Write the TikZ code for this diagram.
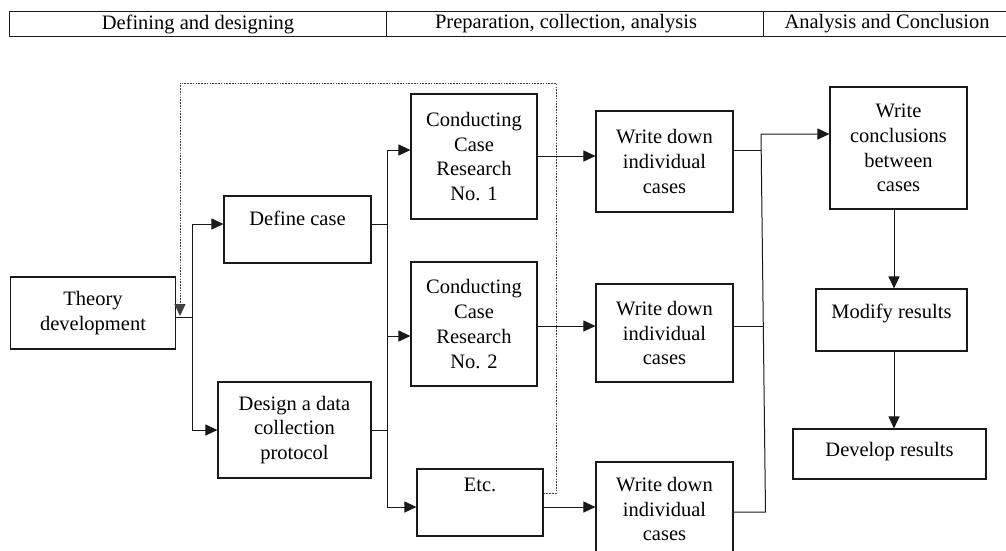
\documentclass[tikz,border=0pt]{standalone}
\usepackage{fontspec}
\setmainfont{Liberation Serif}
\usetikzlibrary{arrows.meta}
\tikzset{
  box/.style={draw=black!90, line width=1.1pt, inner sep=0pt, align=center,
    font=\fontsize{20.5}{24.7}\selectfont},
  hdr/.style={inner sep=0pt, font=\fontsize{20.5}{24.7}\selectfont},
  conn/.style={draw=black!90, line width=1pt},
  tip/.style={-{Triangle[length=12pt,width=11pt]}},
  arr/.style={conn, tip},
  dots/.style={draw=black!75, line width=0.9pt, dash pattern=on 1.6pt off 1.2pt}
}
\begin{document}
\begin{tikzpicture}[x=1pt,y=-1pt]
\useasboundingbox (0,0) rectangle (1006,550);
\clip (0,0) rectangle (1006,550);
% header table
\draw[conn] (9,11) rectangle (1006,36);
\draw[conn] (386,11) -- (386,36);
\draw[conn] (763,11) -- (763,36);
\node[hdr] (h1) at (198,24) {Defining and designing};
\node[hdr] (h2) at (566,24) {Preparation, collection, analysis};
\node[hdr] (h3) at (887,24) {Analysis and Conclusion};
% nodes
\node[box, minimum width=165pt, minimum height=72pt] (T) at (93,313) {Theory\\development};
\node[box, minimum width=147pt, minimum height=67pt] (DC) at (297.5,229.5) {Define case\\[-2pt]\mbox{}};
\node[box, minimum width=153pt, minimum height=96pt] (DP) at (294.5,430) {Design a data\\collection\\protocol};
\node[box, minimum width=126pt, minimum height=125pt] (C1) at (474,156.5) {Conducting\\Case\\Research\\No. 1};
\node[box, minimum width=126pt, minimum height=124pt] (C2) at (474,324) {Conducting\\Case\\Research\\No. 2};
\node[box, minimum width=126pt, minimum height=67pt] (E) at (480,502.5) {Etc.\\[10pt]\mbox{}};
\node[box, minimum width=137pt, minimum height=101pt] (W1) at (664.5,161.5) {Write down\\individual\\cases};
\node[box, minimum width=137pt, minimum height=98pt] (W2) at (664.5,333) {Write down\\individual\\cases};
\node[box, minimum width=137pt, minimum height=94pt] (W3) at (664.5,509) {Write down\\individual\\cases};
\node[box, minimum width=137pt, minimum height=122pt] (WC) at (898.5,148) {Write\\conclusions\\between\\cases};
\node[box, minimum width=151pt, minimum height=62pt] (M) at (891.5,320) {Modify results\\[-6.7pt]\mbox{}};
\node[box, minimum width=193pt, minimum height=50pt] (D) at (889.5,454) {Develop results\\[-16pt]\mbox{}};
% bend coordinates
\coordinate (jT) at (192,317);
\coordinate (yDC) at (0,224);
\coordinate (yDP) at (0,430);
\coordinate (jA) at (387,224);
\coordinate (jB) at (387,430);
\coordinate (jTop) at (387,150);
\coordinate (jBot) at (387,507);
\coordinate (yC2) at (0,336);
\coordinate (yW1) at (0,156);
\coordinate (yW2) at (0,326);
\coordinate (jW1) at (761,150);
\coordinate (jW2) at (762.5,326);
\coordinate (jW3) at (765.5,512);
\coordinate (jWC) at (761,134);
\coordinate (xM) at (894,0);
\coordinate (d1) at (556,493);
\coordinate (d2) at (556,83);
\coordinate (d3) at (180,83);
\coordinate (d4) at (180,316);
% connectors
\draw[arr] (T.east |- jT) -- (jT) |- (DC.west |- yDC);
\draw[arr] (jT) |- (DP.west |- yDP);
\draw[conn] (DC.east |- yDC) -- (jA);
\draw[conn] (DP.east |- yDP) -- (jB);
\draw[conn] (jTop) -- (jBot);
\draw[arr] (jTop) -- (C1.west |- jTop);
\draw[arr] (jA |- yC2) -- (C2.west |- yC2);
\draw[arr] (jBot) -- (E.west |- jBot);
\draw[arr] (C1.east |- yW1) -- (W1.west |- yW1);
\draw[arr] (C2.east |- yW2) -- (W2.west |- yW2);
\draw[arr] (E.east |- jBot) -- (W3.west |- jBot);
\draw[conn] (W1.east |- jW1) -- (jW1);
\draw[conn] (W2.east |- jW2) -- (jW2);
\draw[arr] (W3.east |- jW3) -- (jW3) -- (jWC) -- (WC.west |- jWC);
\draw[arr] (WC.south -| xM) -- (M.north -| xM);
\draw[arr] (M.south -| xM) -- (D.north -| xM);
\draw[dots, tip] (E.east |- d1) -- (d1) -- (d2) -- (d3) -- (d4);
\end{tikzpicture}
\end{document}
